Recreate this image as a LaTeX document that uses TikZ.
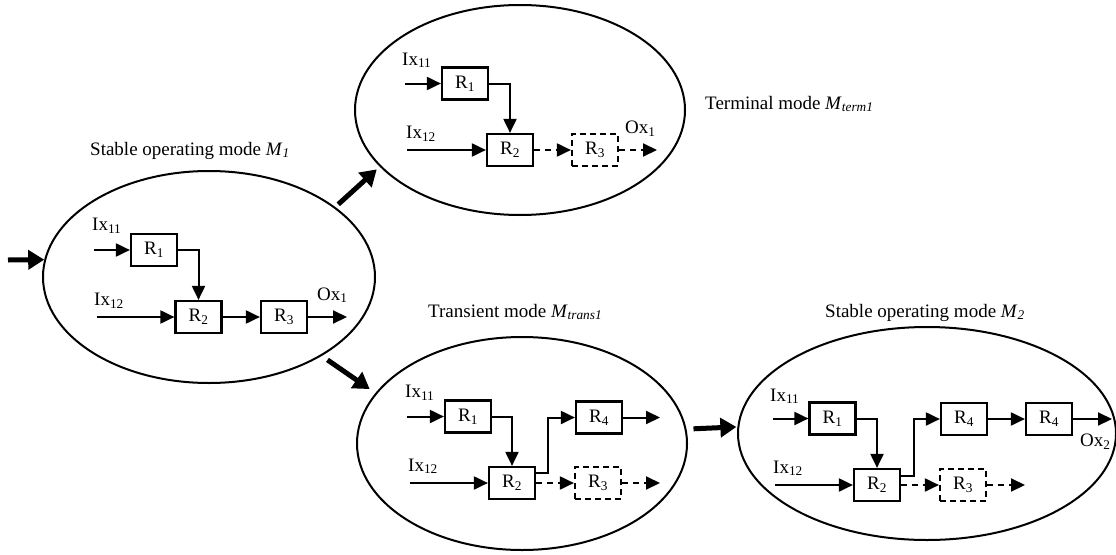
\documentclass[tikz,border=0pt]{standalone}
\usepackage{fontspec}
\setmainfont{Liberation Serif}
\usetikzlibrary{arrows.meta,shapes.geometric}
\begin{document}
\begin{tikzpicture}[x=1pt,y=-1pt,
  every node/.style={font=\fontsize{19}{23}\selectfont},
  mode/.style={draw, ellipse, line width=2pt, inner sep=0pt},
  box/.style={draw, line width=2.2pt, minimum width=46pt, minimum height=32pt, inner sep=0pt},
  dbox/.style={box, dash pattern=on 6pt off 4pt},
  lab/.style={anchor=base west, inner sep=0pt},
  arr/.style={line width=2pt, -{Triangle[length=14pt,width=13pt]}},
  dashy/.style={dash pattern=on 6pt off 5pt},
  big/.style={line width=5pt, -{Triangle[length=16pt,width=19pt]}}
]
\useasboundingbox (0,0) rectangle (1116,554);

% mode ellipses
\node[mode, minimum width=332pt, minimum height=212pt] (E1) at (209,277) {};
\node[mode, minimum width=330pt, minimum height=210pt] (E2) at (520,110) {};
\node[mode, minimum width=330pt, minimum height=213pt] (E3) at (522,443.5) {};
\node[mode, minimum width=378pt, minimum height=213pt] (E4) at (927,433.5) {};

% titles
\node[lab] (t1) at (90,155) {Stable operating mode \textit{M}\textsubscript{\textit{1}}};
\node[lab] (t2) at (705,109) {Terminal mode \textit{M}\textsubscript{\textit{term1}}};
\node[lab] (t3) at (428,317) {Transient mode \textit{M}\textsubscript{\textit{trans1}}};
\node[lab] (t4) at (825,317) {Stable operating mode \textit{M}\textsubscript{\textit{2}}};

% group 1 (M1)
\node[box] (a1) at (154,250) {R\textsubscript{1}};
\node[box] (a2) at (198.5,317) {R\textsubscript{2}};
\node[box] (a3) at (284,317) {R\textsubscript{3}};
\node[lab] (ai1) at (92,230.7) {Ix\textsubscript{11}};
\node[lab] (ai2) at (94,305.7) {Ix\textsubscript{12}};
\node[lab] (ao) at (317,300) {Ox\textsubscript{1}};
\coordinate (as1) at (94,250);
\coordinate (as2) at (97,317);
\coordinate (ae) at (347,317);
\draw[arr] (as1) -- (a1);
\draw[arr] (a1) -| (a2);
\draw[arr] (as2) -- (a2);
\draw[arr] (a2) -- (a3);
\draw[arr] (a3) -- (ae);

% group 2 (terminal)
\node[box] (b1) at (465,83.5) {R\textsubscript{1}};
\node[box] (b2) at (510,150) {R\textsubscript{2}};
\node[dbox] (b3) at (595,150) {R\textsubscript{3}};
\node[lab] (bi1) at (402,65) {Ix\textsubscript{11}};
\node[lab] (bi2) at (406,138.3) {Ix\textsubscript{12}};
\node[lab] (bo) at (625,133.3) {Ox\textsubscript{1}};
\coordinate (bs1) at (405,83.5);
\coordinate (bs2) at (407,150);
\coordinate (be) at (657,150);
\draw[arr] (bs1) -- (b1);
\draw[arr] (b1) -| (b2);
\draw[arr] (bs2) -- (b2);
\draw[arr, dashy] (b2) -- (b3);
\draw[arr, dashy] (b3) -- (be);

% group 3 (transient)
\node[box] (c1) at (468,416.5) {R\textsubscript{1}};
\node[box] (c2) at (512,483) {R\textsubscript{2}};
\node[box] (c4) at (599,417.5) {R\textsubscript{4}};
\node[dbox] (c3) at (598,483) {R\textsubscript{3}};
\node[lab] (ci1) at (405,397.7) {Ix\textsubscript{11}};
\node[lab] (ci2) at (408,471) {Ix\textsubscript{12}};
\coordinate (cs1) at (407,416.5);
\coordinate (cs2) at (410,483);
\coordinate (ce4) at (660,417.5);
\coordinate (ce3) at (660,483);
\draw[arr] (cs1) -- (c1);
\draw[arr] (c1) -| (c2);
\draw[arr] (cs2) -- (c2);
\draw[arr] ([yshift=10pt]c2.east) -- ++(12,0) |- (c4);
\draw[arr] (c4) -- (ce4);
\draw[arr, dashy] (c2) -- (c3);
\draw[arr, dashy] (c3) -- (ce3);

% group 4 (M2)
\node[box] (d1) at (832.5,418.5) {R\textsubscript{1}};
\node[box] (d2) at (877,485) {R\textsubscript{2}};
\node[box] (d4) at (964,419) {R\textsubscript{4}};
\node[box] (d5) at (1049,419) {R\textsubscript{4}};
\node[dbox] (d3) at (963,485) {R\textsubscript{3}};
\node[lab] (di1) at (770,401) {Ix\textsubscript{11}};
\node[lab] (di2) at (773,473) {Ix\textsubscript{12}};
\node[lab] (do) at (1080,446.7) {Ox\textsubscript{2}};
\coordinate (ds1) at (773,418.5);
\coordinate (ds2) at (775,485);
\coordinate (de5) at (1112,419);
\coordinate (de3) at (1025,485);
\draw[arr] (ds1) -- (d1);
\draw[arr] (d1) -| (d2);
\draw[arr] (ds2) -- (d2);
\draw[arr] ([yshift=9pt]d2.east) -- ++(13,0) |- (d4);
\draw[arr] (d4) -- (d5);
\draw[arr] (d5) -- (de5);
\draw[arr, dashy] (d2) -- (d3);
\draw[arr, dashy] (d3) -- (de3);

% transitions
\coordinate (start) at (8,260);
\draw[big] (start) -- (E1.174);
\draw[big, shorten <=4pt, shorten >=4pt] (E1.29) -- (E2.202);
\draw[big, shorten <=7pt, shorten >=7pt] (E1.-35) -- (E3.161.5);
\draw[big, shorten <=7pt, shorten >=1pt] (E3.5.8) -- (E4.178.3);
\end{tikzpicture}
\end{document}
